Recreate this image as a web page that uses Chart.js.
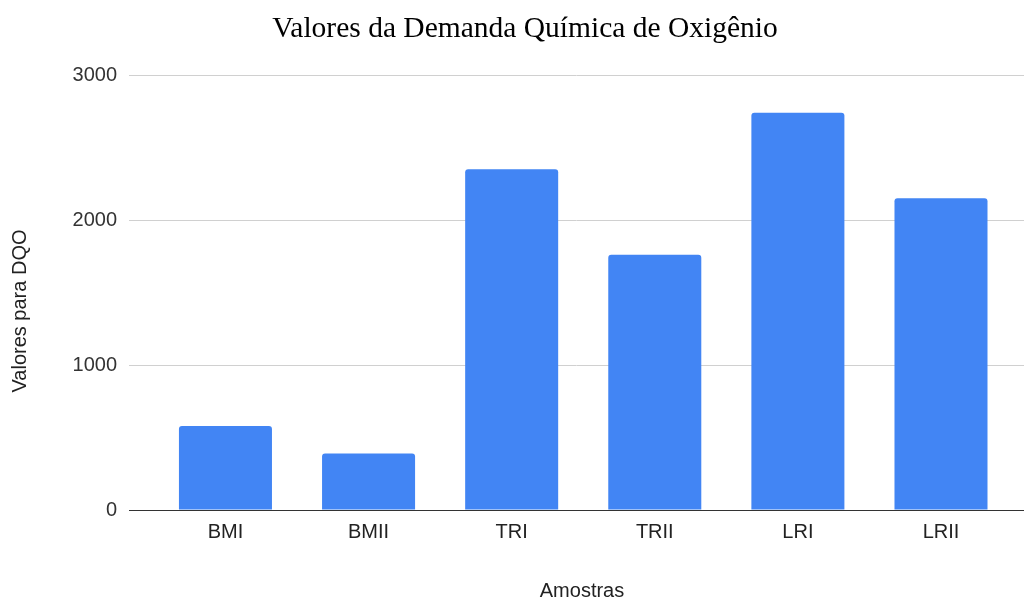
<!DOCTYPE html>
<html lang="pt">
<head>
  <meta charset="UTF-8" />
  <title>Valores da Demanda Química de Oxigênio</title>
  <script src="https://cdn.jsdelivr.net/npm/chart.js"></script>
  <style>
    html, body { margin: 0; padding: 0; background: #fff; }
    #wrap { width: 1024px; height: 599px; position: relative; }
  </style>
</head>
<body>
<div id="wrap"><canvas id="dqoChart"></canvas></div>

<script>
  // dados
  const amostras = ['BMI', 'BMII', 'TRI', 'TRII', 'LRI', 'LRII'];
  const valoresDQO = [580, 390, 2350, 1760, 2740, 2150];
  const yTicks = [0, 1000, 2000, 3000];

  const titulo = 'Valores da Demanda Química de Oxigênio';
  const tituloX = 'Amostras';
  const tituloY = 'Valores para DQO';

  Chart.defaults.font.family = '"Liberation Sans", Arial, sans-serif';

  // chart title and axis titles drawn by hand so they sit where the original has them
  const titles = {
    id: 'titles',
    afterDraw(chart) {
      const c = chart.ctx;
      c.save();
      c.fillStyle = '#000';
      c.textAlign = 'center';
      c.textBaseline = 'alphabetic';
      c.font = '29.5px "Liberation Serif", "Times New Roman", serif';
      c.fillText(titulo, 525, 37);

      c.fillStyle = '#222';
      c.font = '20px "Liberation Sans", Arial, sans-serif';
      c.textBaseline = 'middle';
      c.fillText(tituloX, 582, 591);
      c.translate(20, 311);
      c.rotate(-Math.PI / 2);
      c.fillText(tituloY, 0, 0);
      c.restore();
    }
  };

  new Chart(document.getElementById('dqoChart'), {
    type: 'bar',
    data: {
      datasets: [{
        label: tituloY,
        data: valoresDQO.map((v, i) => ({ x: i, y: v })),
        backgroundColor: '#4285f4',
        borderRadius: { topLeft: 3, topRight: 3 },
        borderSkipped: 'start',
        barPercentage: 0.65,
        categoryPercentage: 1
      }]
    },
    options: {
      responsive: true,
      maintainAspectRatio: false,
      animation: false,
      layout: { padding: { top: 75, left: 0, right: 0, bottom: 0 } },
      plugins: {
        legend: { display: false },
        tooltip: { enabled: false },
        title: { display: false }
      },
      scales: {
        x: {
          type: 'linear',
          offset: false,
          min: -0.674,
          max: 5.58,
          grid: { display: false, drawTicks: false },
          border: { display: true, color: '#333', width: 1 },
          ticks: {
            stepSize: 1,
            includeBounds: false,
            autoSkip: false,
            maxRotation: 0,
            padding: 10,
            color: '#222',
            font: { size: 20 },
            callback: v => amostras[v]
          },
          afterFit: s => { s.height = 89; }
        },
        y: {
          min: 0,
          max: 3000,
          grid: {
            drawTicks: false,
            color: c => (c.tick && c.tick.value === 0) ? '#333' : '#d0d0d0',
            lineWidth: 1
          },
          border: { display: false },
          afterBuildTicks: s => { s.ticks = yTicks.map(v => ({ value: v })); },
          ticks: {
            padding: 12,
            color: '#333',
            font: { size: 20 },
            callback: v => String(v)
          },
          afterFit: s => { s.width = 129; }
        }
      }
    },
    plugins: [titles]
  });
</script>
</body>
</html>
